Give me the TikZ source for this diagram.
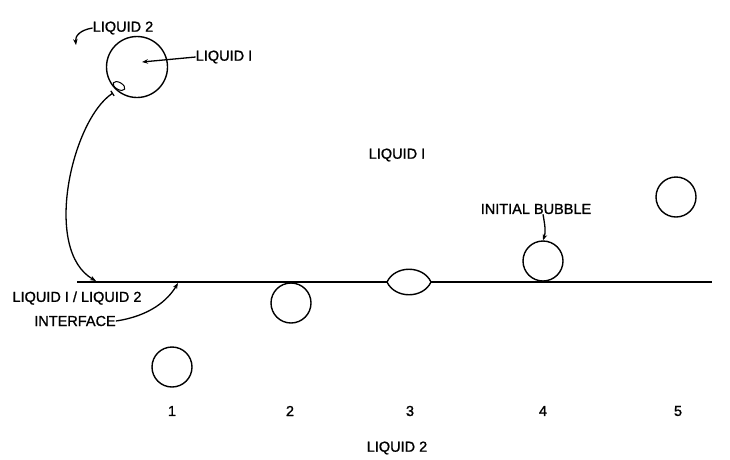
\documentclass[tikz,border=0pt]{standalone}
\usepackage{fontspec}
\setmainfont{Liberation Sans}
\newfontfamily\lettering{Liberation Sans}[FakeBold=1.2]
\usetikzlibrary{arrows.meta,shapes.geometric}
\begin{document}
\begin{tikzpicture}[x=1pt,y=-1pt,
  lbl/.style={inner sep=0pt,font=\lettering\fontsize{14.5}{16}\selectfont},
  bub/.style={draw,circle,line width=1.4pt,minimum size=40pt,inner sep=0pt},
  ln/.style={line width=1.3pt},
  arr/.style={ln,-{Stealth[length=6pt,width=4.5pt]}}]
\useasboundingbox (0,0) rectangle (730,459);
% top drop
\node[draw,circle,line width=1.4pt,minimum size=61pt,inner sep=0pt] (drop) at (137,67) {};
\node[draw,ellipse,line width=1pt,minimum width=13pt,minimum height=7pt,inner sep=0pt,rotate=-30] (film) at (119,86) {};
\node[lbl] (l2top) at (123,28) {LIQUID 2};
\node[lbl] (l1top) at (224,57) {LIQUID I};
\coordinate (l2tip) at (76,45);
\coordinate (l1tip) at (142,62);
\draw[arr] (l2top.west) .. controls (80,30) and (75,36) .. (l2tip);
\draw[arr] (l1top.west) -- (l1tip);
% interface
\coordinate (ifL) at (77,282);
\coordinate (ifR) at (712,282);
\coordinate (lensL) at (387,282);
\coordinate (lensR) at (431,282);
\draw[ln] (ifL) -- (lensL);
\draw[ln] (lensR) -- (ifR);
\draw[line width=1.4pt] (lensL) .. controls (395,265) and (423,265) .. (lensR)
  .. controls (423,299) and (395,299) .. (lensL);
\coordinate (ifhit) at (96,281);
\coordinate (film end) at (113,93);
\draw[ln,{Bar[width=6pt]}-{Stealth[length=6pt,width=4.5pt]}] (film end) .. controls (72,120) and (42,250) .. (ifhit);
\node[lbl] (iflbl) at (77,298) {LIQUID I / LIQUID 2};
\node[lbl] (ifname) at (75,321) {INTERFACE};
\coordinate (ifhit2) at (178,283);
\draw[arr] (ifname.east) .. controls (150,316) and (168,300) .. (ifhit2);
% bubbles
\node[bub] (b1) at (172,367) {};
\node[bub] (b2) at (291,303) {};
\node[bub] (b4) at (543,261) {};
\node[bub] (b5) at (676,197) {};
\node[lbl] (init) at (536,209) {INITIAL BUBBLE};
\draw[arr] (init.south -| b4) .. controls (545,226) and (546,232) .. (b4.north);
\node[lbl] (l1mid) at (397,155) {LIQUID I};
% numbers
\node[lbl] (n1) at (172,411) {1};
\node[lbl] (n2) at (290,411) {2};
\node[lbl] (n3) at (410,411) {3};
\node[lbl] (n4) at (543,411) {4};
\node[lbl] (n5) at (678,411) {5};
\node[lbl] (l2bot) at (397,448) {LIQUID 2};
\end{tikzpicture}
\end{document}
